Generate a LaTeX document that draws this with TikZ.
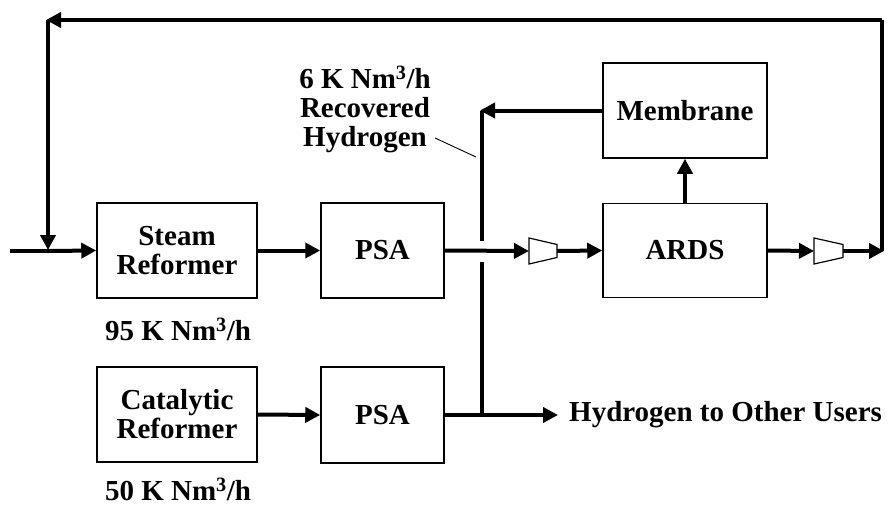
\documentclass[tikz,border=0pt]{standalone}
\usepackage{fontspec}
\setmainfont{Liberation Serif}
\usetikzlibrary{arrows.meta}
\newcommand{\lblfont}{\fontsize{29}{29}\selectfont\bfseries}
\begin{document}
\begin{tikzpicture}[x=1pt,y=-1pt,
  box/.style={draw,line width=1.5pt,inner sep=0pt,align=center,font=\lblfont},
  lbl/.style={inner sep=0pt,align=center,font=\lblfont},
  flow/.style={line width=4pt,-{Triangle[length=15pt,width=15pt]}},
  pipe/.style={line width=4pt},
  comp/.style={draw,line width=1.2pt,fill=white,line join=miter}]
\useasboundingbox (0,0) rectangle (889,506);
% boxes
\node[box,minimum width=160pt,minimum height=95pt] (steam) at (177,250.5) {Steam\\Reformer};
\node[box,minimum width=123pt,minimum height=95pt] (psa1) at (382.5,250.5) {PSA};
\node[box,minimum width=164pt,minimum height=94pt] (ards) at (685,250.5) {ARDS};
\node[box,minimum width=164pt,minimum height=95pt] (memb) at (685,110.5) {Membrane};
\node[box,minimum width=160pt,minimum height=95pt] (cat) at (177,414.5) {Catalytic\\Reformer};
\node[box,minimum width=123pt,minimum height=96pt] (psa2) at (382.5,415) {PSA};
% labels
\node[lbl] (l95) at (178,329) {95 K Nm\textsuperscript{3}/h};
\node[lbl] (l50) at (178,489) {50 K Nm\textsuperscript{3}/h};
\node[lbl] (lrec) at (365,109) {6 K Nm\textsuperscript{3}/h\\Recovered\\Hydrogen};
\node[lbl,anchor=west] (users) at (569,415) {Hydrogen to Other Users};
% coordinates
\coordinate (in) at (10,251);
\coordinate (mix) at (48,251);
\coordinate (tl) at (48,20);
\coordinate (tr) at (882,20);
\coordinate (rr) at (882,251);
\coordinate (j1) at (482,110.5);
\coordinate (gapT) at (482,241);
\coordinate (gapB) at (482,262);
\coordinate (j2) at (482,415);
\coordinate (c1a) at (529,251);
\coordinate (c1b) at (557,251);
\coordinate (c2a) at (814,251);
\coordinate (c2b) at (843,251);
\coordinate (lead1) at (435,138);
\coordinate (lead2) at (476,157);
% compressors
\draw[comp] (529,238) -- (557,244.5) -- (557,257.5) -- (529,264) -- cycle;
\draw[comp] (814,238) -- (843,244.5) -- (843,257.5) -- (814,264) -- cycle;
% flows
\draw[pipe] (in) -- (mix);
\draw[flow] (mix) -- (steam.west);
\draw[flow] (steam.east) -- (psa1.west);
\draw[flow] (psa1.east) -- (c1a);
\draw[flow] (c1b) -- (ards.west);
\draw[flow] (ards.east) -- (c2a);
\draw[flow,shorten >=-2pt] (c2b) -- (rr);
\draw[pipe] (rr) -- (tr);
\draw[flow,shorten >=-2pt] (tr) -- (tl);
\draw[flow,shorten >=1pt] (tl) -- (mix);
\draw[flow] (ards.north) -- (memb.south);
\draw[flow,shorten >=-2pt] (memb.west) -- (j1);
\draw[pipe] (j1) -- (gapT);
\draw[pipe] (gapB) -- (j2);
\draw[flow] (cat.east) -- (psa2.west);
\draw[flow,shorten >=11pt] (psa2.east) -- (users.west);
\draw[line width=0.9pt] (lead1) -- (lead2);
\end{tikzpicture}
\end{document}
